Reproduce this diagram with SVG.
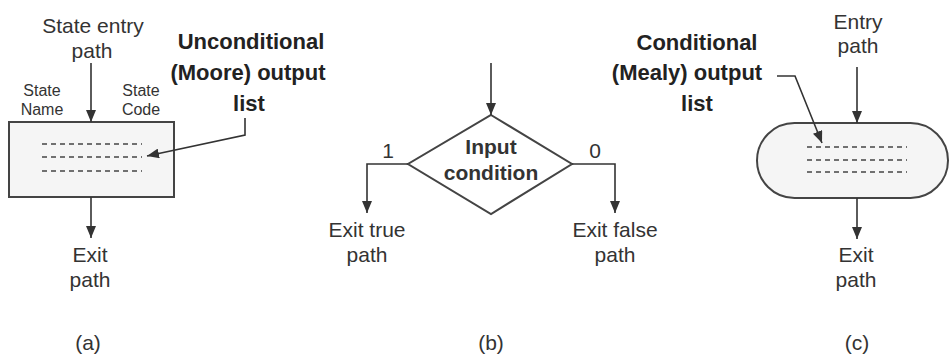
<svg xmlns="http://www.w3.org/2000/svg" width="951" height="358" viewBox="0 0 951 358">
<style>
text{font-family:"Liberation Sans",Arial,sans-serif;fill:#333;text-anchor:middle}
.n{font-size:21px}
.s{font-size:16px}
.b{font-size:22px;font-weight:bold;fill:#222}
.bd{font-size:21px;font-weight:bold;fill:#333}
.shape{fill:#f5f5f5;stroke:#444;stroke-width:2}
.dash{stroke:#444;stroke-width:1.6;stroke-dasharray:5 4;fill:none}
.ln{stroke:#333;stroke-width:1.6;fill:none;marker-end:url(#ah)}
</style>
<defs>
<marker id="ah" markerWidth="12" markerHeight="10" refX="12" refY="5" orient="auto" markerUnits="userSpaceOnUse" viewBox="0 0 12 10">
<path d="M0,0 L12,5 L0,10 z" fill="#333"/>
</marker>
</defs>
<rect width="951" height="358" fill="#fff"/>

<g id="nodeA">
<rect class="shape" x="9" y="122" width="165" height="75"/>
<line class="dash" x1="42" y1="144" x2="142" y2="144"/>
<line class="dash" x1="42" y1="157" x2="142" y2="157"/>
<line class="dash" x1="42" y1="171" x2="142" y2="171"/>
</g>
<g id="labelsA">
<text class="n" x="93" y="33">State entry</text>
<text class="n" x="92" y="58">path</text>
<text class="s" x="42" y="96">State</text>
<text class="s" x="42" y="115">Name</text>
<text class="s" x="141" y="96">State</text>
<text class="s" x="141" y="115">Code</text>
<text class="b" x="251" y="49">Unconditional</text>
<text class="b" x="248" y="80">(Moore) output</text>
<text class="b" x="249" y="111">list</text>
<text class="n" x="90" y="262">Exit</text>
<text class="n" x="90" y="287">path</text>
<text class="n" x="88" y="350">(a)</text>
</g>

<g id="nodeB">
<polygon class="shape" points="491,115 572,164 491,214 408,164" style="fill:#fff"/>
<text class="bd" x="491" y="154">Input</text>
<text class="bd" x="491" y="180">condition</text>
</g>
<g id="labelsB">
<text class="n" x="388" y="158">1</text>
<text class="n" x="595" y="158">0</text>
<text class="n" x="367" y="237">Exit true</text>
<text class="n" x="367" y="262">path</text>
<text class="n" x="615" y="237">Exit false</text>
<text class="n" x="615" y="262">path</text>
<text class="n" x="491" y="350">(b)</text>
</g>

<g id="nodeC">
<rect class="shape" x="757" y="123" width="191" height="75" rx="37.5" ry="37.5"/>
<line class="dash" x1="807" y1="147" x2="907" y2="147"/>
<line class="dash" x1="807" y1="160" x2="907" y2="160"/>
<line class="dash" x1="807" y1="172" x2="907" y2="172"/>
</g>
<g id="labelsC">
<text class="b" x="697" y="50">Conditional</text>
<text class="b" x="687" y="80">(Mealy) output</text>
<text class="b" x="697" y="111">list</text>
<text class="n" x="858" y="29">Entry</text>
<text class="n" x="858" y="53">path</text>
<text class="n" x="856" y="262">Exit</text>
<text class="n" x="856" y="287">path</text>
<text class="n" x="857" y="350">(c)</text>
</g>

<g id="connectors">
<line class="ln" x1="91" y1="63" x2="91" y2="122"/>
<line class="ln" x1="91" y1="197" x2="91" y2="238"/>
<polyline class="ln" points="245,118 245,135 147,156"/>
<line class="ln" x1="491" y1="63" x2="491" y2="115"/>
<polyline class="ln" points="408,164 367,164 367,213"/>
<polyline class="ln" points="572,164 615,164 615,213"/>
<line class="ln" x1="857" y1="67" x2="857" y2="123"/>
<line class="ln" x1="857" y1="198" x2="857" y2="239"/>
<polyline class="ln" points="777,76 795,76 822,143"/>
</g>
</svg>
